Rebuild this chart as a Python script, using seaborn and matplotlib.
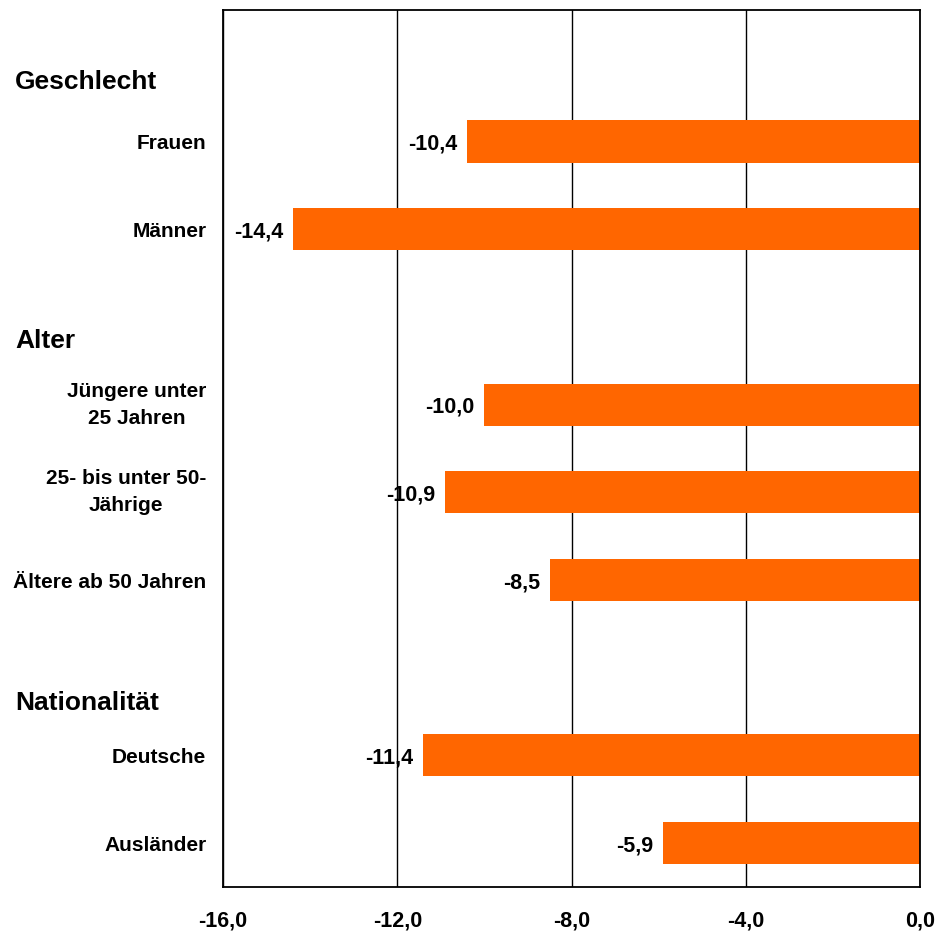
import matplotlib
matplotlib.use("Agg")
import matplotlib.pyplot as plt
import pandas as pd
import seaborn as sns

# Data
categories = ["Frauen", "Männer", "Jüngere unter\n25 Jahren", "25- bis unter 50-\nJährige",
              "Ältere ab 50 Jahren", "Deutsche", "Ausländer"]
values = [-10.4, -14.4, -10.0, -10.9, -8.5, -11.4, -5.9]
# empty slots separate the groups
order = ["Frauen", "Männer", " ", "Jüngere unter\n25 Jahren", "25- bis unter 50-\nJährige",
         "Ältere ab 50 Jahren", "  ", "Deutsche", "Ausländer"]
headers = ["Geschlecht", "Alter", "Nationalität"]
x_ticks = [-16, -12, -8, -4, 0]

df = pd.DataFrame({"Gruppe": categories, "Veränderung": values})

sns.set_style("white")
plt.rcParams["font.family"] = ["Liberation Sans", "DejaVu Sans"]
plt.rcParams["font.weight"] = "bold"
plt.rcParams["text.color"] = "black"
plt.rcParams["xtick.color"] = "black"
plt.rcParams["ytick.color"] = "black"

fig = plt.figure(figsize=(9.39, 9.32), dpi=100)
ax = fig.add_axes([0.2375, 0.0483, 0.7423, 0.941])

sns.barplot(data=df, x="Veränderung", y="Gruppe", order=order, orient="h",
            color="#FF6600", saturation=1, width=0.48, linewidth=0, ax=ax)

ax.set_xlim(-16, 0)
ax.set_ylim(8.5, -1.5)
ax.set_xticks(x_ticks)
ax.set_xticklabels([f"{t:.1f}".replace(".", ",") for t in x_ticks], fontsize=15.5, fontweight="bold")
ax.tick_params(axis="both", length=0)
ax.tick_params(axis="x", pad=17)
ax.tick_params(axis="y", pad=12)
for lab in ax.get_yticklabels():
    lab.set_fontsize(15)
    lab.set_fontweight("bold")
    lab.set_multialignment("center")
    lab.set_linespacing(1.55)
    if "\n" in lab.get_text():
        lab.set_va("center")
ax.set_xlabel("")
ax.set_ylabel("")

ax.grid(axis="x", color="black", linewidth=1)
ax.set_axisbelow(True)
for s in ax.spines.values():
    s.set_visible(True)
    s.set_color("black")
    s.set_linewidth(1.3)

# value labels
for c in ax.containers:
    texts = ax.bar_label(c, labels=[f"{v:.1f}".replace(".", ",") for v in c.datavalues],
                         padding=7, fontsize=15.5, fontweight="bold")
    for t in texts:
        t.set_va("center_baseline")

# group headers
header_y = [-0.68, 2.28, 6.4]
trans = matplotlib.transforms.blended_transform_factory(fig.transFigure, ax.transData)
for h, y in zip(headers, header_y):
    ax.text(0.016, y, h, transform=trans, fontsize=19, fontweight="bold",
            va="center", ha="left", color="black")

fig.savefig("out.png", dpi=100)
